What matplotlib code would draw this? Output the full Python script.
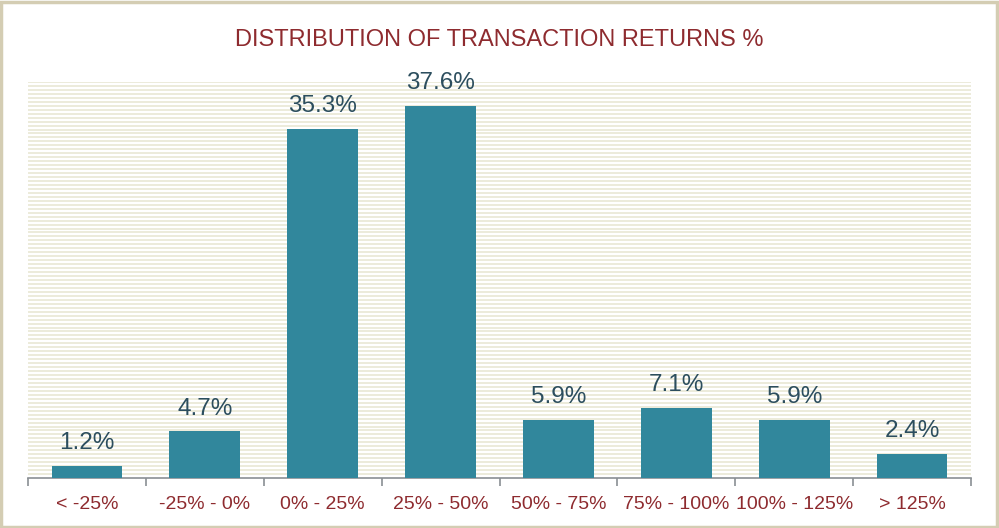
import matplotlib
matplotlib.use("Agg")
import matplotlib.pyplot as plt
from matplotlib.patches import Rectangle
import numpy as np

categories = ["< -25%", "-25% - 0%", "0% - 25%", "25% - 50%",
              "50% - 75%", "75% - 100%", "100% - 125%", "> 125%"]
returns_pct = [1.2, 4.7, 35.3, 37.6, 5.9, 7.1, 5.9, 2.4]

BAR = "#31879c"
LABEL = "#2c4e5e"
MAROON = "#8e2b2f"
GRID = "#e9e7d4"
FRAME = "#d4cdb3"

plt.rcParams["font.family"] = ["Liberation Sans", "DejaVu Sans"]

fig = plt.figure(figsize=(9.99, 5.28), dpi=100)
fig.patches.append(Rectangle((0.001, 0.002), 0.997, 0.995, transform=fig.transFigure,
                             fill=False, edgecolor=FRAME, linewidth=2.5))
ax = fig.add_axes([0.028, 0.0947, 0.944, 0.75])

x = np.arange(len(categories))
ax.bar(x, returns_pct, width=0.6, color=BAR, zorder=3)
for xi, v in zip(x, returns_pct):
    ax.text(xi, v + 1.2, f"{v:.1f}%", ha="center", va="bottom",
            color=LABEL, fontsize=17.5)

ax.set_xlim(-0.5, len(categories) - 0.5)
ax.set_ylim(0, 40)
# dense horizontal ruling behind the bars
for y in np.arange(0.4, 40.01, 0.4):
    ax.axhline(y, color=GRID, linewidth=1.2, zorder=1)

ax.set_yticks([])
ax.set_xticks(np.arange(-0.5, len(categories), 1.0))
ax.set_xticklabels([])
ax.set_xticks(x, minor=True)
ax.set_xticklabels(categories, minor=True, color=MAROON, fontsize=14)
ax.tick_params(axis="x", which="major", length=6, color="#8a8f93", width=1.2)
ax.tick_params(axis="x", which="minor", length=0, pad=13)
for s in ["top", "right", "left"]:
    ax.spines[s].set_visible(False)
ax.spines["bottom"].set_color("#8a8f93")
ax.spines["bottom"].set_linewidth(1.2)

fig.text(0.5, 0.925, "DISTRIBUTION OF TRANSACTION RETURNS %", ha="center",
         va="center", color=MAROON, fontsize=17)

fig.savefig("out.png", dpi=100)
